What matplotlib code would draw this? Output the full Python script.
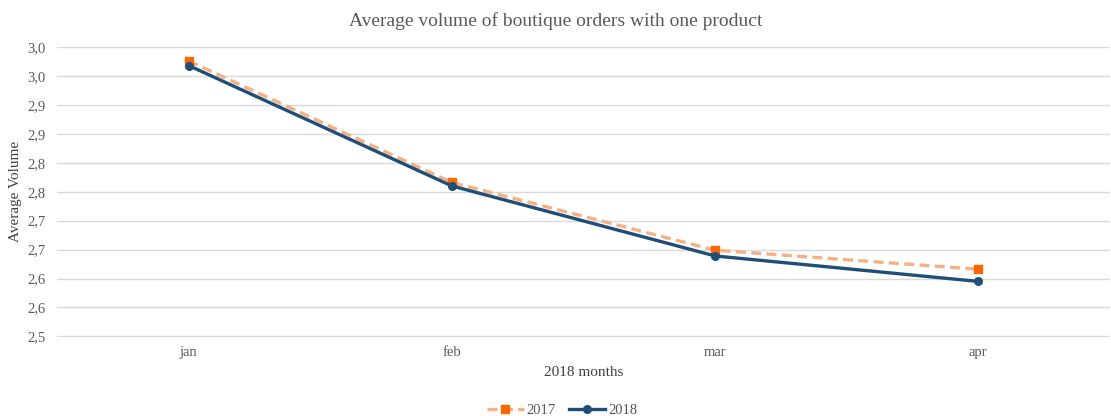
import matplotlib
matplotlib.use("Agg")
import matplotlib.pyplot as plt

months = ["jan", "feb", "mar", "apr"]
vol_2017 = [2.976, 2.766, 2.649, 2.616]
vol_2018 = [2.968, 2.760, 2.639, 2.595]
y_ticks = [2.50, 2.55, 2.60, 2.65, 2.70, 2.75, 2.80, 2.85, 2.90, 2.95, 3.00]
y_tick_labels = ["2,5", "2,6", "2,6", "2,7", "2,7", "2,8", "2,8", "2,9", "2,9", "3,0", "3,0"]

plt.rcParams["font.family"] = ["Liberation Serif", "DejaVu Serif"]
text_gray = "#595959"

fig = plt.figure(figsize=(11.11, 4.16), dpi=100)
ax = fig.add_axes([0.0513, 0.1906, 0.9477, 0.6971])

x = list(range(len(months)))
ax.plot(x, vol_2017, color="#F4B183", linewidth=2.4, linestyle=(0, (3, 1.6)),
        marker="s", markersize=6, markerfacecolor="#FF6600",
        markeredgecolor="#FF6600", label="2017", zorder=3)
ax.plot(x, vol_2018, color="#1F4E79", linewidth=2.4, linestyle="-",
        marker="o", markersize=5.5, markerfacecolor="#1F4E79",
        markeredgecolor="#1F4E79", label="2018", zorder=4)

ax.set_xlim(-0.5, len(months) - 0.5)
ax.set_ylim(2.4995, 3.0005)
ax.set_xticks(x)
ax.set_xticklabels(months)
ax.set_yticks(y_ticks)
ax.set_yticklabels(y_tick_labels)
ax.tick_params(axis="both", length=0, labelsize=10.5, colors=text_gray)
ax.tick_params(axis="x", pad=7)
ax.tick_params(axis="y", pad=8)

ax.grid(axis="y", color="#D9D9D9", linewidth=1)
ax.set_axisbelow(True)
for s in ax.spines.values():
    s.set_visible(False)

ax.set_xlabel("2018 months", fontsize=11, color="#404040", labelpad=5)
ax.set_ylabel("Average Volume", fontsize=11, color="#404040", labelpad=4)
fig.suptitle("Average volume of boutique orders with one product",
             fontsize=14, color=text_gray, y=0.97)

fig.legend(loc="lower center", ncol=2, frameon=False, fontsize=10.5,
           bbox_to_anchor=(0.506, -0.035), handlelength=2.5, columnspacing=0.9,
           handletextpad=0.2, labelcolor=text_gray)

fig.savefig("out.png", dpi=100)
